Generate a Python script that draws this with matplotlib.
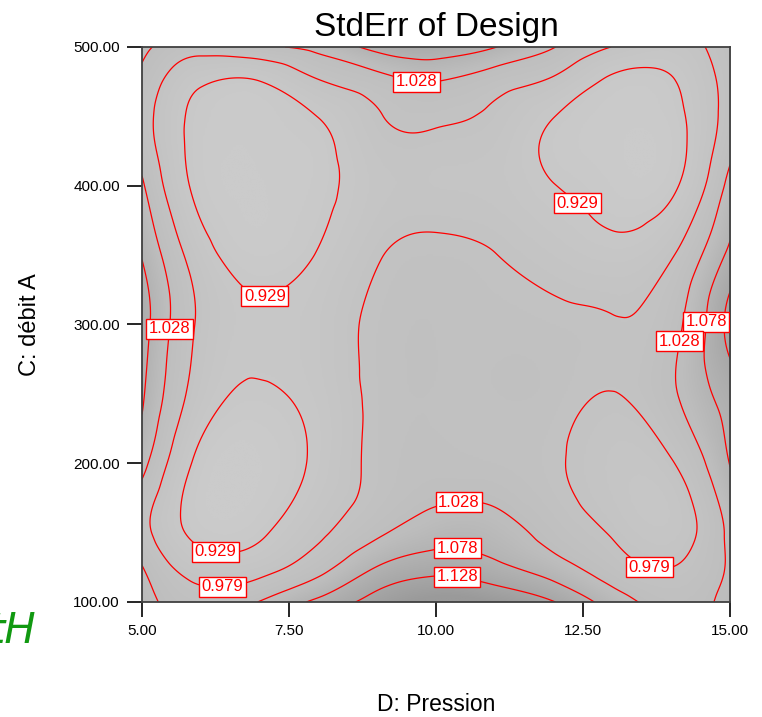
import numpy as np
import matplotlib
matplotlib.use("Agg")
import matplotlib.pyplot as plt
import matplotlib.tri as mtri
from matplotlib.colors import LinearSegmentedColormap

plt.rcParams["font.family"] = ["Liberation Sans", "DejaVu Sans"]

# sample positions
pression = [5, 6, 7, 8, 9, 10, 11, 12, 13, 14, 15]          # D: Pression
debit = [100, 125, 150, 200, 250, 300, 350, 400, 450, 475, 500]  # C: débit A

# StdErr of design, one list per débit value (left -> right in pression)
se_100 = [1.050, 1.000, 1.030, 1.090, 1.150, 1.190, 1.175, 1.130, 1.055, 1.010, 1.045]
se_125 = [1.030, 0.955, 0.960, 1.010, 1.080, 1.110, 1.090, 1.050, 1.000, 0.979, 1.035]
se_150 = [0.995, 0.915, 0.922, 0.970, 1.020, 1.055, 1.050, 1.010, 0.975, 0.955, 1.040]
se_200 = [1.045, 0.915, 0.900, 0.940, 0.990, 1.005, 1.000, 0.985, 0.958, 0.975, 1.080]
se_250 = [1.085, 0.955, 0.924, 0.945, 0.990, 1.000, 1.000, 0.995, 0.978, 1.020, 1.100]
se_300 = [1.100, 0.970, 0.935, 0.950, 0.990, 1.000, 0.995, 0.990, 0.982, 1.010, 1.145]
se_350 = [1.075, 0.950, 0.910, 0.932, 0.975, 0.990, 0.980, 0.960, 0.945, 0.975, 1.090]
se_400 = [1.035, 0.915, 0.900, 0.915, 0.955, 0.960, 0.955, 0.930, 0.910, 0.920, 1.045]
se_450 = [1.000, 0.915, 0.905, 0.930, 0.975, 0.987, 0.970, 0.930, 0.905, 0.915, 1.000]
se_475 = [1.015, 0.935, 0.928, 0.975, 1.008, 1.028, 1.000, 0.970, 0.920, 0.925, 1.000]
se_500 = [1.040, 1.000, 1.020, 1.042, 1.095, 1.110, 1.080, 1.030, 0.978, 0.955, 1.010]

levels = [0.929, 0.979, 1.028, 1.078, 1.128]
xticks = [5.0, 7.5, 10.0, 12.5, 15.0]
yticks = [100, 200, 300, 400, 500]

# where the boxed contour labels sit (data coords)
label_spots = [
    (9.69, 482), (12.40, 387), (7.07, 327), (5.44, 297),
    (14.56, 302), (14.12, 288), (10.37, 178), (10.37, 142),
    (10.37, 122), (6.26, 140), (6.36, 118), (13.67, 132),
]

rows = [se_100, se_125, se_150, se_200, se_250, se_300,
        se_350, se_400, se_450, se_475, se_500]
X, Y = np.meshgrid(pression, debit)
Z = np.array(rows)

tri = mtri.Triangulation(X.ravel(), Y.ravel())
interp = mtri.CubicTriInterpolator(tri, Z.ravel(), kind="min_E")
xf = np.linspace(5, 15, 301)
yf = np.linspace(100, 500, 301)
Xf, Yf = np.meshgrid(xf, yf)
Zf = interp(Xf, Yf)

grey = LinearSegmentedColormap.from_list("grey", ["#cbcbcb", "#bdbdbd", "#9a9a9a"])

fig = plt.figure(figsize=(7.62, 7.17), dpi=100)
ax = fig.add_axes([0.1864, 0.1604, 0.7717, 0.7741])

ax.imshow(Zf, extent=[5, 15, 100, 500], origin="lower", aspect="auto",
          cmap=grey, vmin=0.90, vmax=1.18, interpolation="bilinear")
cs = ax.contour(Xf, Yf, Zf, levels=levels, colors="red", linewidths=0.9)
texts = ax.clabel(cs, levels, fmt="%.3f", inline=False, manual=label_spots,
                  fontsize=12, colors="red")
for t in texts:
    t.set_rotation(0)
    t.set_zorder(5)
    t.set_bbox(dict(boxstyle="square,pad=0.15", facecolor="white",
                    edgecolor="red", linewidth=1.0))

ax.set_xlim(5, 15)
ax.set_ylim(100, 500)
ax.set_xticks(xticks)
ax.set_xticklabels([f"{v:.2f}" for v in xticks])
ax.set_yticks(yticks)
ax.set_yticklabels([f"{v:.2f}" for v in yticks])
ax.tick_params(direction="out", length=11, width=1.2, labelsize=11, pad=5)
for s in ax.spines.values():
    s.set_color("#404040")
    s.set_linewidth(1.3)

ax.set_title("StdErr of Design", fontsize=24, pad=8)
ax.set_xlabel("D: Pression", fontsize=16.5)
ax.xaxis.set_label_coords(0.5, -0.164)
ax.set_ylabel("C: débit A", fontsize=17)
ax.yaxis.set_label_coords(-0.19, 0.50)
ax.yaxis.label.set_verticalalignment("center")

# stray green handwriting cut off at the left edge
fig.text(36 / 762, 1 - 643 / 717, "tH", ha="right", va="baseline",
         color="#119911", fontsize=30, style="italic", family="DejaVu Sans")

fig.savefig("out.png", dpi=100)
